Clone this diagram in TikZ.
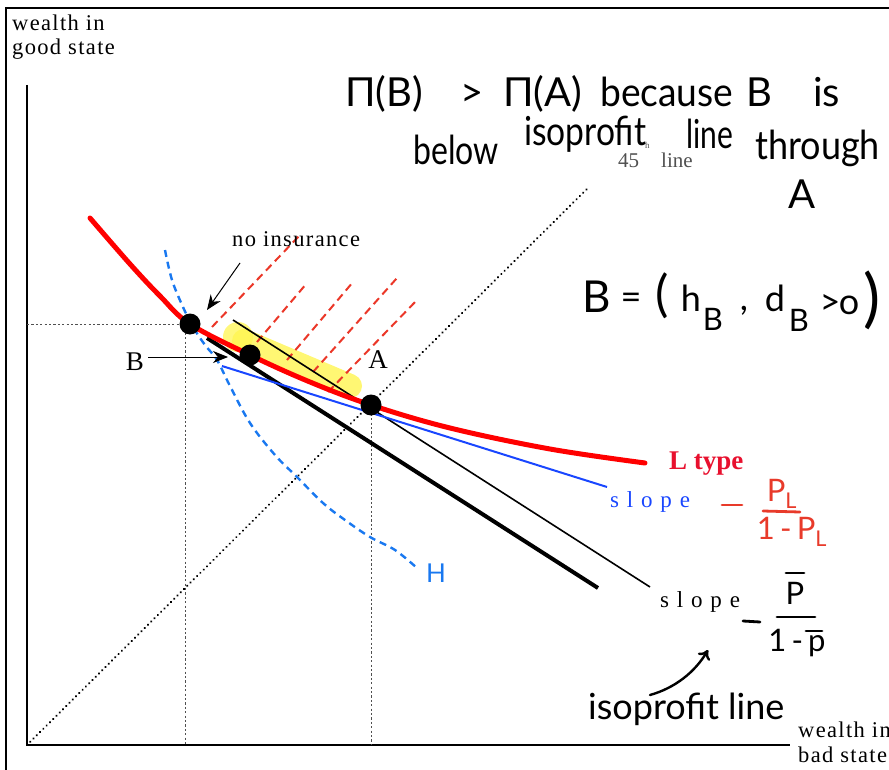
\documentclass[tikz,border=0pt]{standalone}
\usepackage{fontspec}
\setmainfont{Liberation Serif}
\newfontfamily\lbl[LetterSpace=6]{Liberation Serif}
\newfontfamily\lblw[LetterSpace=9]{Liberation Serif}
\newfontfamily\hand{Lato}
\usetikzlibrary{arrows.meta}
\definecolor{curvered}{RGB}{255,0,0}
\definecolor{ltype}{RGB}{232,16,46}
\definecolor{hatch}{RGB}{235,55,40}
\definecolor{hwred}{RGB}{232,58,42}
\definecolor{tanblue}{RGB}{25,70,255}
\definecolor{hblue}{RGB}{25,120,240}
\definecolor{hilite}{RGB}{255,245,80}
\definecolor{guide}{RGB}{80,80,80}
\tikzset{
  lab/.style={font=\lbl\fontsize{22.5}{26}\selectfont, inner sep=0pt},
  slab/.style={font=\lblw\fontsize{23}{26}\selectfont, inner sep=0pt},
  big/.style={font=\fontsize{27}{30}\selectfont, inner sep=0pt},
  hw/.style={font=\hand\fontsize{40}{46}\selectfont, inner sep=0pt, anchor=base west},
  hwmid/.style={font=\hand\fontsize{36}{42}\selectfont, inner sep=0pt},
  hwsmall/.style={font=\hand\fontsize{31}{36}\selectfont, inner sep=0pt},
  dot/.style={circle, fill=black, minimum size=21pt, inner sep=0pt},
  guideline/.style={guide, line width=0.9pt, dash pattern=on 2.2pt off 2.2pt},
  hatchline/.style={hatch, line width=2pt, dash pattern=on 8pt off 5pt},
  hwstroke/.style={line width=2.8pt, line cap=round},
}
\begin{document}
\begin{tikzpicture}[x=1pt,y=-1pt]
\useasboundingbox (0,0) rectangle (889,770);
% frame
\draw[line width=1.6pt] (6,770) -- (6,8) -- (889,8);
% axes
\coordinate (O) at (27,745);
\coordinate (ytop) at (27,85);
\coordinate (xend) at (790,745);
\draw[line width=2.4pt] (ytop) -- (O) -- (xend);
% axis labels
\node[lab, anchor=base west] (wg1) at (12,31) {wealth in};
\node[lab, anchor=base west] (wg2) at (12,55) {good state};
\node[lab, anchor=base west] (wb1) at (798,737) {wealth in};
\node[lab, anchor=base west] (wb2) at (798,762) {bad state};
% 45 degree line
\coordinate (d45) at (588,188);
\draw[line width=2.4pt, dash pattern=on 0.01pt off 4.6pt, line cap=round] (O) -- (d45);
\node[font=\fontsize{21}{24}\selectfont, text=guide, anchor=base west, inner sep=0pt] (l45) at (618,168) {45};
\node[font=\fontsize{9}{10}\selectfont, text=guide, anchor=base west, inner sep=0pt] (l45h) at (645,149) {h};
\node[font=\fontsize{21}{24}\selectfont, text=guide, anchor=base west, inner sep=0pt] (l45b) at (661,168) {line};
% points
\coordinate (N) at (190,324);
\coordinate (Bp) at (250,355);
\coordinate (Ap) at (371,405);
% guide lines
\coordinate (Ny) at (27,324);
\coordinate (Nx) at (185,745);
\coordinate (Nt) at (185,324);
\coordinate (Ax) at (371,745);
\draw[guideline] (Ny) -- (N);
\draw[guideline] (Nt) -- (Nx);
\draw[guideline] (Ap) -- (Ax);
% highlight
\draw[hilite, opacity=0.8, line width=24pt, line cap=round] (244,341) -- (350,386);
\fill[hilite, opacity=0.75] (238,337) circle (15pt);
% hatching
\draw[hatchline] (212,327) -- (300,235);
\draw[hatchline] (257,342) -- (307,283);
\draw[hatchline] (287,360) -- (353,282);
\draw[hatchline] (313,372) -- (397,278);
\draw[hatchline] (328,392) -- (417,300);
% H indifference curve (dashed blue)
\draw[hblue, line width=2.4pt, dash pattern=on 7pt off 5pt] plot[smooth, tension=0.6] coordinates
  {(165,250) (172,280) (183,307) (193,327) (205,345) (217,360) (230,386) (250,423) (275,455) (297,477) (323,503) (345,520) (370,537) (395,550) (417,568)};
\node[font=\hand\fontsize{26}{30}\selectfont, text=hblue, inner sep=0pt] (Hlab) at (436,573) {H};
% isoprofit lines
\coordinate (t1s) at (233,320);
\coordinate (t1e) at (650,587);
\draw[line width=1.6pt] (t1s) -- (t1e);
\coordinate (t2s) at (207,338);
\coordinate (t2e) at (598,588);
\draw[line width=4pt] (t2s) -- (t2e);
% tangent blue
\coordinate (bs) at (222,366);
\coordinate (be) at (607,487);
\draw[tanblue, line width=2pt] (bs) -- (be);
% L type curve
\draw[curvered, line width=5pt, line cap=round] plot[smooth, tension=0.6] coordinates
  {(90,218) (130,264) (160,296) (190,324) (250,355) (310,382) (371,405) (450,428) (550,449) (645,463)};
% dots
\node[dot] (dN) at (N) {};
\node[dot] (dB) at (Bp) {};
\node[dot] (dA) at (Ap) {};
% labels with arrows
\node[lab, anchor=base west] (noins) at (232,247) {no insurance};
\coordinate (noinsS) at (240,263);
\draw[line width=1pt, -{Stealth[length=15pt,width=12pt]}] (noinsS) -- (207,310);
\node[big] (Blab) at (135,362) {B};
\coordinate (BarS) at (148,357);
\draw[line width=1pt, -{Stealth[length=15pt,width=12pt]}] (BarS) -- (228,357);
\node[big] (Alab) at (378,360) {A};
\node[font=\bfseries\fontsize{27}{30}\selectfont, text=ltype, anchor=base west, inner sep=0pt] (Lt) at (669,469) {L type};
\node[slab, text=tanblue, anchor=base west] (sl1) at (610,507) {s l o p e};
\node[slab, anchor=base west] (sl2) at (660,607) {s l o p e};
% handwritten top, line 1
\node[hw] (h1a) at (345,107) {Π(B)};
\node[hw] (h1b) at (460,107) {>};
\node[hw] (h1c) at (503,107) {Π(A)};
\node[hw] (h1d) at (600,107) {\scalebox{0.93}[1]{because}};
\node[hw] (h1e) at (746,107) {B};
\node[hw] (h1f) at (813,107) {is};
% line 2
\node[hw] (h2a) at (413,165) {\scalebox{0.8}[1]{below}};
\node[hw] (h2b) at (524,146) {\scalebox{0.84}[1]{isoprofit}};
\node[hw] (h2c) at (686,149) {\scalebox{0.75}[1]{line}};
\node[hw] (h2d) at (755,160) {\scalebox{0.9}[1]{through}};
% line 3
\node[hw, anchor=center] (h3) at (802,194) {A};
% B = (h_B, d_B > 0)
\node[font=\hand\fontsize{44}{50}\selectfont, inner sep=0pt] (eB) at (597,297) {B};
\node[hwmid] (eEq) at (631,301) {=};
\node[font=\hand\fontsize{50}{56}\selectfont, inner sep=0pt] (eL) at (662,296) {(};
\node[hwmid] (eh) at (691,298) {h};
\node[hwsmall] (ehs) at (713,319) {B};
\node[hwmid] (eC) at (744,311) {,};
\node[hwmid] (ed) at (775,298) {d};
\node[hwsmall] (eds) at (799,320) {B};
\node[hwmid] (eGt) at (830,305) {>};
\node[hwmid] (e0) at (849,305) {o};
\node[font=\hand\fontsize{64}{70}\selectfont, inner sep=0pt] (eR) at (872,300) {)};
% red fraction
\coordinate (rm1) at (722,505);
\coordinate (rm2) at (742,505);
\draw[hwred, hwstroke] (rm1) -- (rm2);
\node[hwsmall, text=hwred] (rnum) at (782,494) {P\textsubscript{L}};
\coordinate (rb1) at (763,511);
\coordinate (rb2) at (800,512);
\draw[hwred, hwstroke] (rb1) -- (rb2);
\node[hwsmall, text=hwred] (rden) at (792,532) {1\,-\,P\textsubscript{L}};
% black fraction
\coordinate (km1) at (743,621);
\coordinate (km2) at (760,622);
\draw[hwstroke] (km1) -- (km2);
\node[hwsmall] (knum) at (795,593) {P};
\coordinate (kt1) at (786,573);
\coordinate (kt2) at (804,573);
\draw[hwstroke] (kt1) -- (kt2);
\coordinate (kb1) at (777,617);
\coordinate (kb2) at (815,617);
\draw[hwstroke] (kb1) -- (kb2);
\node[hwsmall] (kden) at (797,643) {1\,-\,p};
\coordinate (kp1) at (806,631);
\coordinate (kp2) at (822,631);
\draw[hwstroke] (kp1) -- (kp2);
% isoprofit line label & arrow
\node[font=\hand\fontsize{36}{40}\selectfont, inner sep=0pt, anchor=base west] (iso) at (588,719) {isoprofit line};
\coordinate (isoA) at (650,695);
\coordinate (isoB) at (708,650);
\draw[line width=2.4pt, line cap=round, -{To[length=9pt,width=14pt]}] (isoA) .. controls (675,688) and (695,672) .. (isoB);
\end{tikzpicture}
\end{document}
